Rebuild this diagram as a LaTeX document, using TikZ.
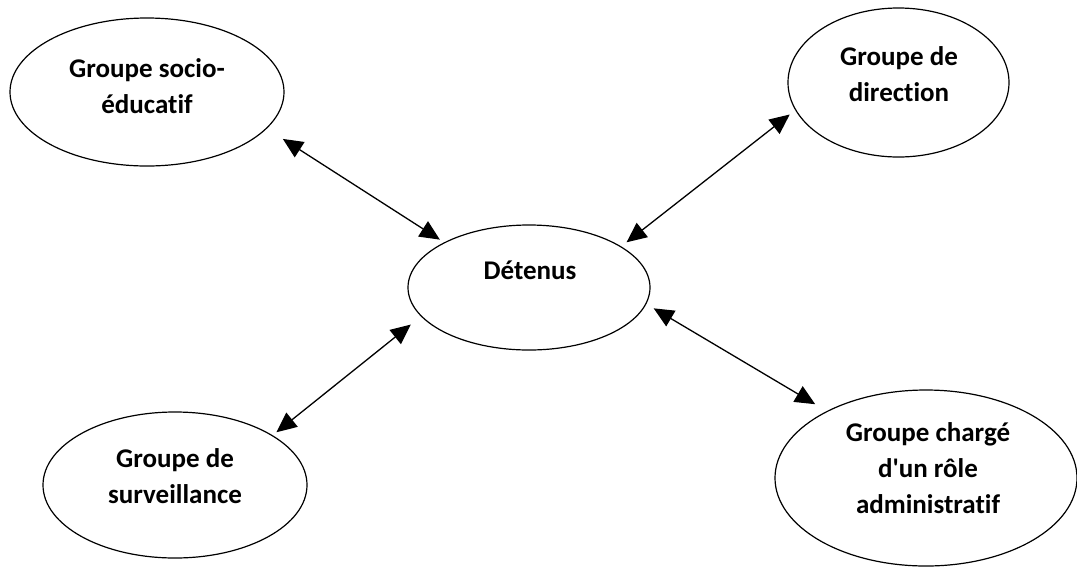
\documentclass[tikz,border=0pt]{standalone}
\usepackage{fontspec}
\setmainfont{Carlito}[Ligatures={TeX,NoCommon}]
\usetikzlibrary{shapes.geometric,arrows.meta}

\begin{document}
\begin{tikzpicture}[x=1pt,y=-1pt,
  groupe/.style={draw, ellipse, line width=1.2pt, inner sep=0pt},
  nom/.style={font=\fontsize{27}{36}\selectfont\bfseries, align=center},
  lien/.style={line width=1.3pt, {Triangle[length=20pt,width=18pt]}-{Triangle[length=20pt,width=18pt]}}]

\useasboundingbox (0,0) rectangle (1077,566);

% les cinq groupes
\node[groupe, minimum width=274pt, minimum height=148pt] (socio) at (147,92) {};
\node[groupe, minimum width=221pt, minimum height=149pt] (dir) at (898.5,82.5) {};
\node[groupe, minimum width=242pt, minimum height=125pt] (det) at (529,287.5) {};
\node[groupe, minimum width=264pt, minimum height=146pt] (surv) at (175,485) {};
\node[groupe, minimum width=302pt, minimum height=176pt] (admin) at (926,478) {};

\node[nom] (socio-txt) at (147,86) {Groupe socio-\\éducatif};
\node[nom] (dir-txt) at (899,74) {Groupe de\\direction};
\node[nom] (det-txt) at (530,270) {Détenus};
\node[nom] (surv-txt) at (175,476) {Groupe de\\surveillance};
\node[nom] (admin-txt) at (928,468) {Groupe chargé\\d\textquotesingle un rôle\\administratif};

% liens avec les détenus
\draw[lien, shorten <=19pt, shorten >=5pt] (socio.-17.15) -- (det.152.15);
\draw[lien, shorten <=6.7pt, shorten >=7pt] (det.24.5) -- (dir.-165.2);
\draw[lien, shorten <=8.5pt, shorten >=13.4pt] (det.-8.96) -- (admin.146.3);
\draw[lien, shorten <=4.85pt, shorten >=13pt] (surv.27.44) -- (det.-165.9);

\end{tikzpicture}
\end{document}
